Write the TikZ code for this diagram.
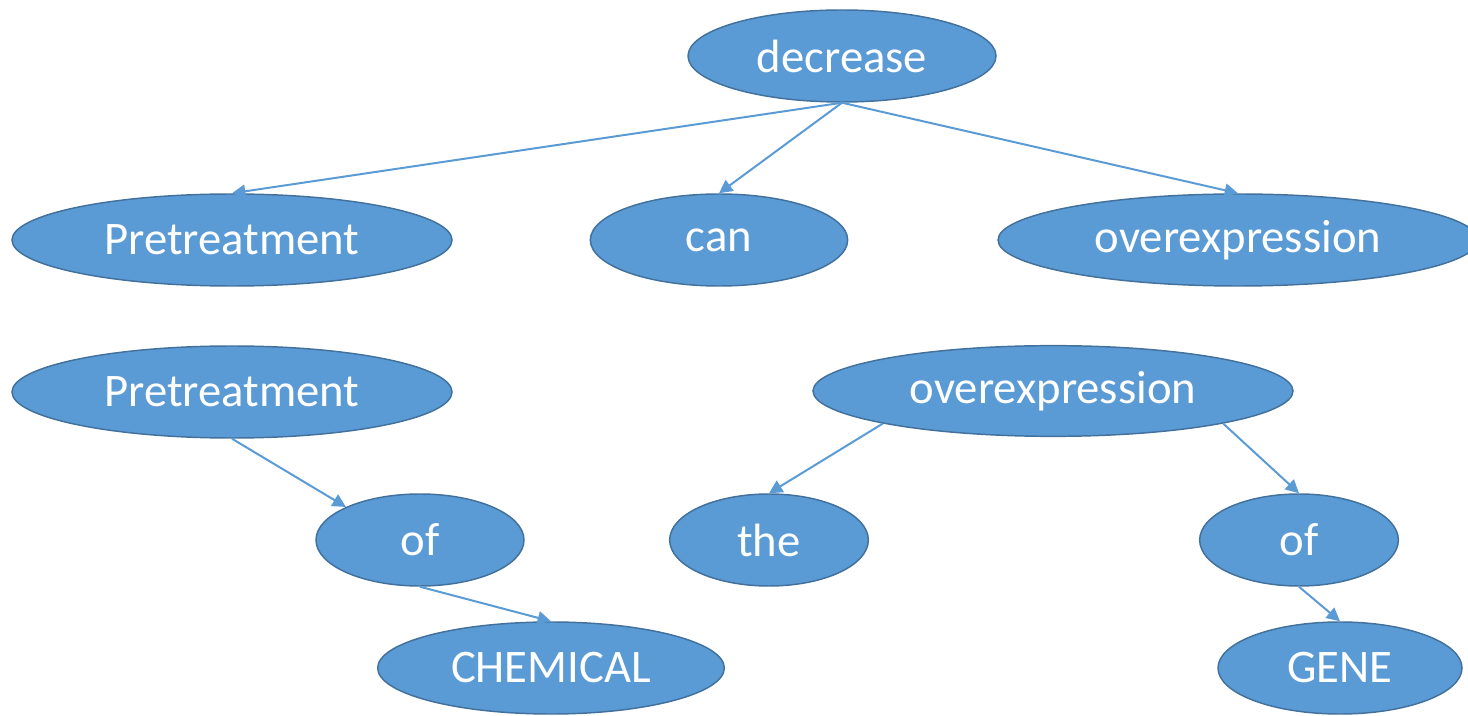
\documentclass[tikz,border=0pt]{standalone}
\usepackage{fontspec}
\setmainfont{Carlito}
\usetikzlibrary{arrows.meta,shapes.geometric}
\definecolor{wordfill}{HTML}{5B9BD5}
\definecolor{wordline}{HTML}{41719C}
\tikzset{
  word/.style={ellipse, draw=wordline, line width=1.1pt, fill=wordfill, text=white,
    inner sep=0pt, minimum height=69pt, font=\fontsize{35}{42}\selectfont},
  link/.style={draw=wordfill, line width=1.5pt, -{Triangle[length=10pt,width=10pt]}}
}
\begin{document}
\begin{tikzpicture}[x=0.75pt,y=-0.75pt]
    \useasboundingbox (0,0) rectangle (1468,716);
    % first tree
    \node[word, minimum width=231pt] (decrease) at (842,56) {decrease};
    \node[word, minimum width=330pt] (pre1) at (232,240) {Pretreatment};
    \node[word, minimum width=193pt] (can) at (719,240) {can};
    \node[word, minimum width=360pt] (over1) at (1238,240) {overexpression};
    \draw[link] (decrease.south) -- (pre1.north);
    \draw[link] (decrease.south) -- (can.north);
    \draw[link] (decrease.south) -- (over1.north);
    % second trees
    \node[word, minimum width=330pt] (pre2) at (232,392) {Pretreatment};
    \node[word, minimum width=156pt] (ofl) at (420,540) {of};
    \node[word, minimum width=260pt] (chem) at (551,668) {CHEMICAL};
    \node[word, minimum width=360pt, minimum height=68pt] (over2) at (1053,391) {overexpression};
    \node[word, minimum width=149pt] (the) at (769,540) {the};
    \node[word, minimum width=149pt] (ofr) at (1299,540) {of};
    \node[word, minimum width=183pt] (gene) at (1340,668) {GENE};
    \draw[link] (pre2.south) -- (ofl.north west);
    \draw[link] (ofl.south) -- (chem.north);
    \draw[link] (over2.south west) -- (the.north);
    \draw[link] (over2.south east) -- (ofr.north);
    \draw[link] (ofr.south) -- (gene.north);
\end{tikzpicture}
\end{document}
